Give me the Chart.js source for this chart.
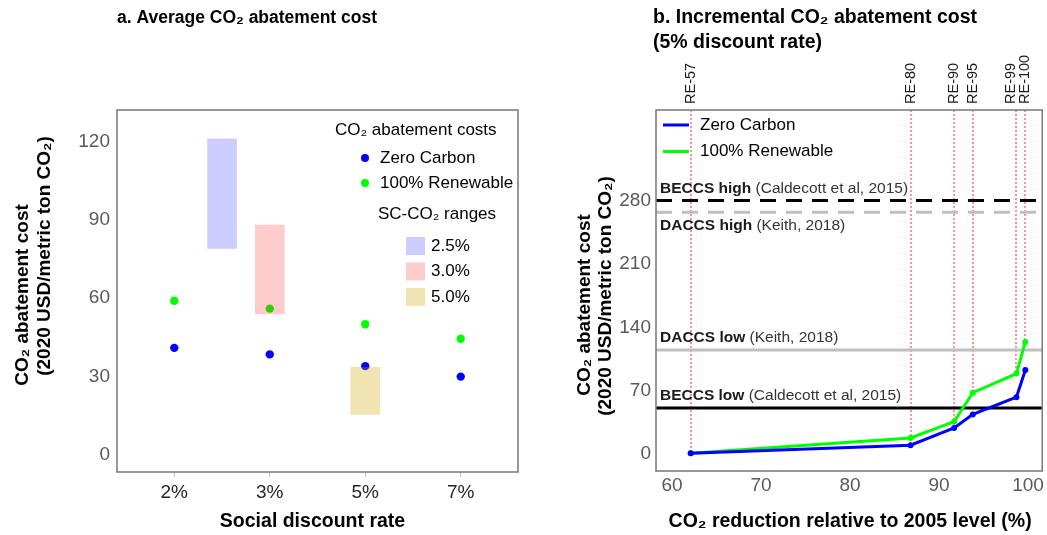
<!DOCTYPE html>
<html>
<head>
<meta charset="utf-8">
<script src="https://cdn.jsdelivr.net/npm/chart.js@4.4.1/dist/chart.umd.min.js"></script>
<style>
  html, body { margin: 0; padding: 0; background: #fff; }
  #wrap { position: relative; width: 1047px; height: 535px; overflow: hidden; }
  canvas { position: absolute; top: 0; }
  #chartA { left: 0; }
  #chartB { left: 540px; }
</style>
</head>
<body>
<div id="wrap">
  <canvas id="chartA" width="540" height="535"></canvas>
  <canvas id="chartB" width="507" height="535"></canvas>
</div>
<script>
// ---- Panel a: average abatement cost by social discount rate ----
const rateLabels = ['2%', '3%', '5%', '7%'];
const ratePositions = [0, 1, 2, 3];
const zeroCarbonAvg = [41, 38.5, 34, 30];
const renewableAvg = [59, 56, 50, 44.5];
const sccLabels = ['2.5%', '3.0%', '5.0%'];
const sccPositions = [0.5, 1, 2];
const sccLow = [79, 54, 15.5];
const sccHigh = [121, 88, 33.5];
const yTicksA = [0, 30, 60, 90, 120];

// ---- Panel b: incremental abatement cost (5% discount rate) ----
const scenarioLabels = ['RE-57', 'RE-80', 'RE-90', 'RE-95', 'RE-99', 'RE-100'];
const co2Reduction = [62.1, 86.8, 91.7, 93.8, 98.7, 99.7];
const zeroCarbonInc = [1, 10, 29, 44, 63, 93];
const renewableInc = [1, 18, 36, 68, 89, 124];
const refNames = ['BECCS high', 'DACCS high', 'DACCS low', 'BECCS low'];
const refSources = ['(Caldecott et al, 2015)', '(Keith, 2018)', '(Keith, 2018)', '(Caldecott et al, 2015)'];
const refCosts = [280, 267, 115, 51];
const xTicksB = [60, 70, 80, 90, 100];
const yTicksB = [0, 70, 140, 210, 280];

const FAMILY = '"Liberation Sans", Arial, sans-serif';
const font = (size, weight) => (weight || 'normal') + ' ' + size + 'px ' + FAMILY;
const BLUE = '#0000ff';
const GREEN = '#00ff00';
const sccColors = ['rgba(0,0,255,0.2)', 'rgba(255,0,0,0.2)', 'rgba(204,170,0,0.3)'];

Chart.defaults.font.family = FAMILY;

// grey box around the plotting area
const frame = {
  id: 'frame',
  afterDatasetsDraw(chart) {
    const { ctx, chartArea: a } = chart;
    ctx.save();
    ctx.strokeStyle = '#7f7f7f';
    ctx.lineWidth = 1.6;
    ctx.strokeRect(a.left, a.top, a.right - a.left, a.bottom - a.top);
    ctx.restore();
  }
};

function rotatedText(ctx, text, x, y, align) {
  ctx.save();
  ctx.translate(x, y);
  ctx.rotate(-Math.PI / 2);
  ctx.textAlign = align || 'center';
  ctx.textBaseline = 'middle';
  ctx.fillText(text, 0, 0);
  ctx.restore();
}

// titles, axis titles and the two-part legend of panel a
const panelAText = {
  id: 'panelAText',
  afterDraw(chart) {
    const { ctx, chartArea: a } = chart;
    ctx.save();
    ctx.fillStyle = '#000';
    ctx.textBaseline = 'middle';
    ctx.textAlign = 'left';
    ctx.font = font(17.5, 'bold');
    ctx.fillText('a. Average CO₂ abatement cost', a.left, 18);
    ctx.textAlign = 'center';
    ctx.font = font(19.5, 'bold');
    ctx.fillText('Social discount rate', (a.left + a.right) / 2 - 5, 522);
    ctx.font = font(19, 'bold');
    rotatedText(ctx, 'CO₂ abatement cost', 23, 295);
    rotatedText(ctx, '(2020 USD/metric ton CO₂)', 45, 256);

    // legend
    ctx.font = font(17);
    ctx.textAlign = 'left';
    ctx.fillStyle = '#000';
    ctx.fillText('CO₂ abatement costs', 335, 130);
    const series = [['Zero Carbon', BLUE], ['100% Renewable', GREEN]];
    series.forEach((s, i) => {
      const y = 158 + i * 25;
      ctx.fillStyle = s[1];
      ctx.beginPath();
      ctx.arc(365, y, 4, 0, Math.PI * 2);
      ctx.fill();
      ctx.fillStyle = '#000';
      ctx.fillText(s[0], 380, y);
    });
    ctx.fillText('SC-CO₂ ranges', 378, 214);
    sccLabels.forEach((lab, i) => {
      const y = 246 + i * 25.5;
      ctx.fillStyle = sccColors[i];
      ctx.fillRect(406, y - 9, 19, 18);
      ctx.fillStyle = '#000';
      ctx.fillText(lab, 431, y);
    });
    ctx.restore();
  }
};

new Chart(document.getElementById('chartA'), {
  type: 'scatter',
  data: {
    datasets: [
      {
        type: 'bar',
        label: 'SC-CO₂ ranges',
        data: sccPositions.map((x, i) => ({ x: x, y: [sccLow[i], sccHigh[i]] })),
        backgroundColor: sccColors,
        borderWidth: 0,
        barThickness: 29,
        grouped: false,
        order: 0
      },
      {
        label: 'Zero Carbon',
        data: ratePositions.map((x, i) => ({ x: x, y: zeroCarbonAvg[i] })),
        backgroundColor: BLUE,
        borderColor: BLUE,
        pointRadius: 4.2,
        borderWidth: 0,
        order: 1
      },
      {
        label: '100% Renewable',
        data: ratePositions.map((x, i) => ({ x: x, y: renewableAvg[i] })),
        backgroundColor: GREEN,
        borderColor: GREEN,
        pointRadius: 4.2,
        borderWidth: 0,
        order: 1
      }
    ]
  },
  options: {
    responsive: false,
    animation: false,
    devicePixelRatio: 1,
    layout: { padding: { top: 110, right: 22, left: 0, bottom: 0 } },
    plugins: { legend: { display: false }, tooltip: { enabled: false } },
    scales: {
      x: {
        type: 'linear',
        min: -0.6,
        max: 3.6,
        offset: false,
        afterFit: s => { s.height = 63; },
        afterBuildTicks: s => { s.ticks = ratePositions.map(v => ({ value: v })); },
        grid: { drawOnChartArea: false, drawTicks: true, tickLength: 5, color: '#bfbfbf', offset: false },
        border: { display: false },
        ticks: {
          callback: v => rateLabels[ratePositions.indexOf(v)],
          color: '#262626',
          font: { size: 19 },
          padding: 4,
          maxRotation: 0
        }
      },
      y: {
        min: -6.5,
        max: 132,
        afterFit: s => { s.width = 117; },
        afterBuildTicks: s => { s.ticks = yTicksA.map(v => ({ value: v })); },
        grid: { display: false, drawTicks: false },
        border: { display: false },
        ticks: { color: '#595959', font: { size: 19 }, padding: 7 }
      }
    }
  },
  plugins: [frame, panelAText]
});

// ---- panel b ----
const xMinB = 58.2, xMaxB = 101.6;
const refStyle = [
  { color: '#000000', dash: [16, 10] },
  { color: '#bfbfbf', dash: [16, 10] },
  { color: '#bfbfbf', dash: [] },
  { color: '#000000', dash: [] }
];

// dotted scenario markers with their rotated names above the plot
const scenarioMarks = {
  id: 'scenarioMarks',
  beforeDatasetsDraw(chart) {
    const { ctx, chartArea: a, scales } = chart;
    ctx.save();
    ctx.strokeStyle = 'rgba(255,40,40,0.5)';
    ctx.lineWidth = 2;
    ctx.setLineDash([2, 2]);
    co2Reduction.forEach((x, i) => {
      const px = Math.round(scales.x.getPixelForValue(x));
      const py = scales.y.getPixelForValue(Math.max(zeroCarbonInc[i], renewableInc[i]));
      ctx.beginPath();
      ctx.moveTo(px, a.top);
      ctx.lineTo(px, py);
      ctx.stroke();
    });
    ctx.restore();
  },
  afterDraw(chart) {
    const { ctx, chartArea: a, scales } = chart;
    ctx.save();
    ctx.fillStyle = '#1a1a1a';
    ctx.font = font(14.5);
    // spread labels that would touch each other
    const xs = co2Reduction.map(x => scales.x.getPixelForValue(x));
    const gap = 14;
    for (let i = xs.length - 1; i > 0; i--) {
      if (xs[i] - xs[i - 1] < gap) xs[i - 1] = xs[i] - gap;
    }
    xs.forEach((px, i) => rotatedText(ctx, scenarioLabels[i], px, a.top - 6, 'left'));
    ctx.restore();
  }
};

const panelBText = {
  id: 'panelBText',
  afterDraw(chart) {
    const { ctx, chartArea: a, scales } = chart;
    ctx.save();
    ctx.fillStyle = '#000';
    ctx.textBaseline = 'middle';
    ctx.textAlign = 'left';
    ctx.font = font(19.5, 'bold');
    ctx.fillText('b. Incremental CO₂ abatement cost', 113, 18);
    ctx.fillText('(5% discount rate)', 113, 43);
    ctx.textAlign = 'center';
    ctx.fillText('CO₂ reduction relative to 2005 level (%)', (a.left + a.right) / 2 + 1, 522);
    ctx.font = font(19, 'bold');
    rotatedText(ctx, 'CO₂ abatement cost', 45, 305);
    rotatedText(ctx, '(2020 USD/metric ton CO₂)', 66, 296);

    // labels of the reference cost levels
    ctx.textAlign = 'left';
    refNames.forEach((name, i) => {
      const py = scales.y.getPixelForValue(refCosts[i]);
      const ty = i === 1 ? py + 13 : py - 12;
      ctx.font = font(15.5, 'bold');
      ctx.fillStyle = '#1a1a1a';
      ctx.fillText(name, a.left + 4, ty);
      const w = ctx.measureText(name + ' ').width;
      ctx.font = font(15.5);
      ctx.fillStyle = '#333';
      ctx.fillText(refSources[i], a.left + 4 + w, ty);
    });

    // legend
    ctx.font = font(17);
    const series = [['Zero Carbon', BLUE], ['100% Renewable', GREEN]];
    series.forEach((s, i) => {
      const y = 125 + i * 26.5;
      ctx.strokeStyle = s[1];
      ctx.lineWidth = 3;
      ctx.beginPath();
      ctx.moveTo(a.left + 7, y);
      ctx.lineTo(a.left + 33, y);
      ctx.stroke();
      ctx.fillStyle = '#000';
      ctx.fillText(s[0], a.left + 44, y);
    });
    ctx.restore();
  }
};

new Chart(document.getElementById('chartB'), {
  type: 'line',
  data: {
    datasets: [
      {
        label: 'Zero Carbon',
        data: co2Reduction.map((x, i) => ({ x: x, y: zeroCarbonInc[i] })),
        borderColor: BLUE,
        backgroundColor: BLUE,
        borderWidth: 3,
        pointRadius: 3,
        pointBorderWidth: 0,
        tension: 0,
        order: 0
      },
      {
        label: '100% Renewable',
        data: co2Reduction.map((x, i) => ({ x: x, y: renewableInc[i] })),
        borderColor: GREEN,
        backgroundColor: GREEN,
        borderWidth: 3,
        pointRadius: 3,
        pointBorderWidth: 0,
        tension: 0,
        order: 1
      },
      ...refNames.map((name, i) => ({
        label: name,
        data: [{ x: xMinB, y: refCosts[i] }, { x: xMaxB, y: refCosts[i] }],
        borderColor: refStyle[i].color,
        borderDash: refStyle[i].dash,
        borderWidth: 3,
        pointRadius: 0,
        order: 2
      }))
    ]
  },
  options: {
    responsive: false,
    animation: false,
    devicePixelRatio: 1,
    layout: { padding: { top: 110, right: 3, left: 0, bottom: 0 } },
    plugins: { legend: { display: false }, tooltip: { enabled: false } },
    scales: {
      x: {
        type: 'linear',
        min: xMinB,
        max: xMaxB,
        afterFit: s => { s.height = 64; },
        afterBuildTicks: s => { s.ticks = xTicksB.map(v => ({ value: v })); },
        grid: { display: false, drawTicks: false },
        border: { display: false },
        ticks: { color: '#595959', font: { size: 19 }, padding: 3, maxRotation: 0 }
      },
      y: {
        min: -18.5,
        max: 380,
        afterFit: s => { s.width = 116; },
        afterBuildTicks: s => { s.ticks = yTicksB.map(v => ({ value: v })); },
        grid: { display: false, drawTicks: false },
        border: { display: false },
        ticks: { color: '#595959', font: { size: 19 }, padding: 5 }
      }
    }
  },
  plugins: [frame, scenarioMarks, panelBText]
});
</script>
</body>
</html>
